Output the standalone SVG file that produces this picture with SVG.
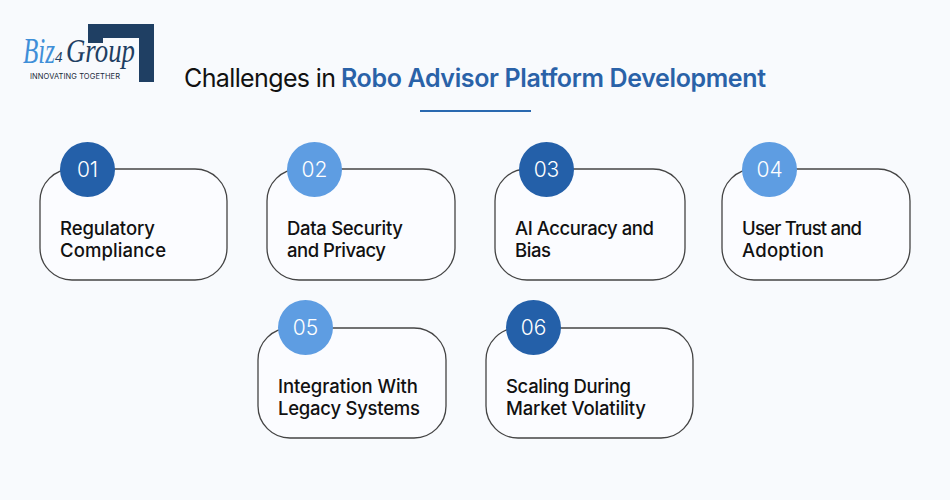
<svg xmlns="http://www.w3.org/2000/svg" width="950" height="500" viewBox="0 0 950 500">
<style>
.card{fill:#fbfcff;stroke:#444;stroke-width:1.3}
.lbl{font-family:"Inter","Liberation Sans",sans-serif;font-size:18.500px;font-weight:500;fill:#111}
.num{font-family:"Inter","Liberation Sans",sans-serif;font-size:21px;font-weight:300;fill:#fff;text-anchor:middle}
.dark{fill:#2460a9}.light{fill:#5e9de2}
.t{font-family:"Inter","Liberation Sans",sans-serif;font-size:25px}
.s{font-family:"Liberation Serif",serif;font-style:italic}
</style>
<rect width="950" height="500" fill="#f8fafd"/>
<g id="logo">
<path d="M88 24H154V82H139V38H103V43H88Z" fill="#1f3f63"/>
<text x="23" y="63" class="s" font-size="35" fill="#3f8fd8" textLength="32" lengthAdjust="spacingAndGlyphs">Biz</text>
<text x="55" y="62" class="s" font-size="15" fill="#1f3f63">4</text>
<text x="66" y="62" class="s" font-size="34" fill="#1f3f63" textLength="69" lengthAdjust="spacingAndGlyphs">Group</text>
<text x="30" y="79" font-family="Inter,Liberation Sans,sans-serif" font-size="7.500" fill="#1a2a3a" textLength="90">INNOVATING TOGETHER</text>
</g>
<g id="title">
<text x="184" y="87" class="t" fill="#111" textLength="152">Challenges in</text>
<text x="341" y="87" class="t" fill="#2a62a8" font-weight="600" textLength="425">Robo Advisor Platform Development</text>
<rect x="420" y="110" width="111" height="2" fill="#2a69b0"/>
</g>
<g id="connectors"/>
<g id="node1"><rect class="card" x="40" y="169" width="187" height="111" rx="32"/><circle class="dark" cx="87.500" cy="169.500" r="27.500"/><text class="num" x="87.500" y="177">01</text><text class="lbl" x="60" y="235" textLength="95">Regulatory</text><text class="lbl" x="60" y="257" textLength="106">Compliance</text></g>
<g id="node2"><rect class="card" x="267" y="169" width="188" height="111" rx="32"/><circle class="light" cx="314.500" cy="169.500" r="27.500"/><text class="num" x="314.500" y="177">02</text><text class="lbl" x="287" y="235" textLength="116">Data Security</text><text class="lbl" x="287" y="257" textLength="99">and Privacy</text></g>
<g id="node3"><rect class="card" x="495" y="169" width="190" height="111" rx="32"/><circle class="dark" cx="546.500" cy="169.500" r="27.500"/><text class="num" x="546.500" y="177">03</text><text class="lbl" x="515" y="235" textLength="139">AI Accuracy and</text><text class="lbl" x="515" y="257" textLength="36">Bias</text></g>
<g id="node4"><rect class="card" x="722" y="169" width="188" height="111" rx="32"/><circle class="light" cx="769.500" cy="169.500" r="27.500"/><text class="num" x="769.500" y="177">04</text><text class="lbl" x="742" y="235" textLength="120">User Trust and</text><text class="lbl" x="742" y="257" textLength="82">Adoption</text></g>
<g id="node5"><rect class="card" x="258" y="328" width="188" height="110" rx="32"/><circle class="light" cx="305.500" cy="327.500" r="27.500"/><text class="num" x="305.500" y="335">05</text><text class="lbl" x="278" y="393" textLength="140">Integration With</text><text class="lbl" x="278" y="415" textLength="142">Legacy Systems</text></g>
<g id="node6"><rect class="card" x="486" y="328" width="207" height="110" rx="32"/><circle class="dark" cx="533.500" cy="327.500" r="27.500"/><text class="num" x="533.500" y="335">06</text><text class="lbl" x="506" y="393" textLength="125">Scaling During</text><text class="lbl" x="506" y="415" textLength="140">Market Volatility</text></g>
</svg>
